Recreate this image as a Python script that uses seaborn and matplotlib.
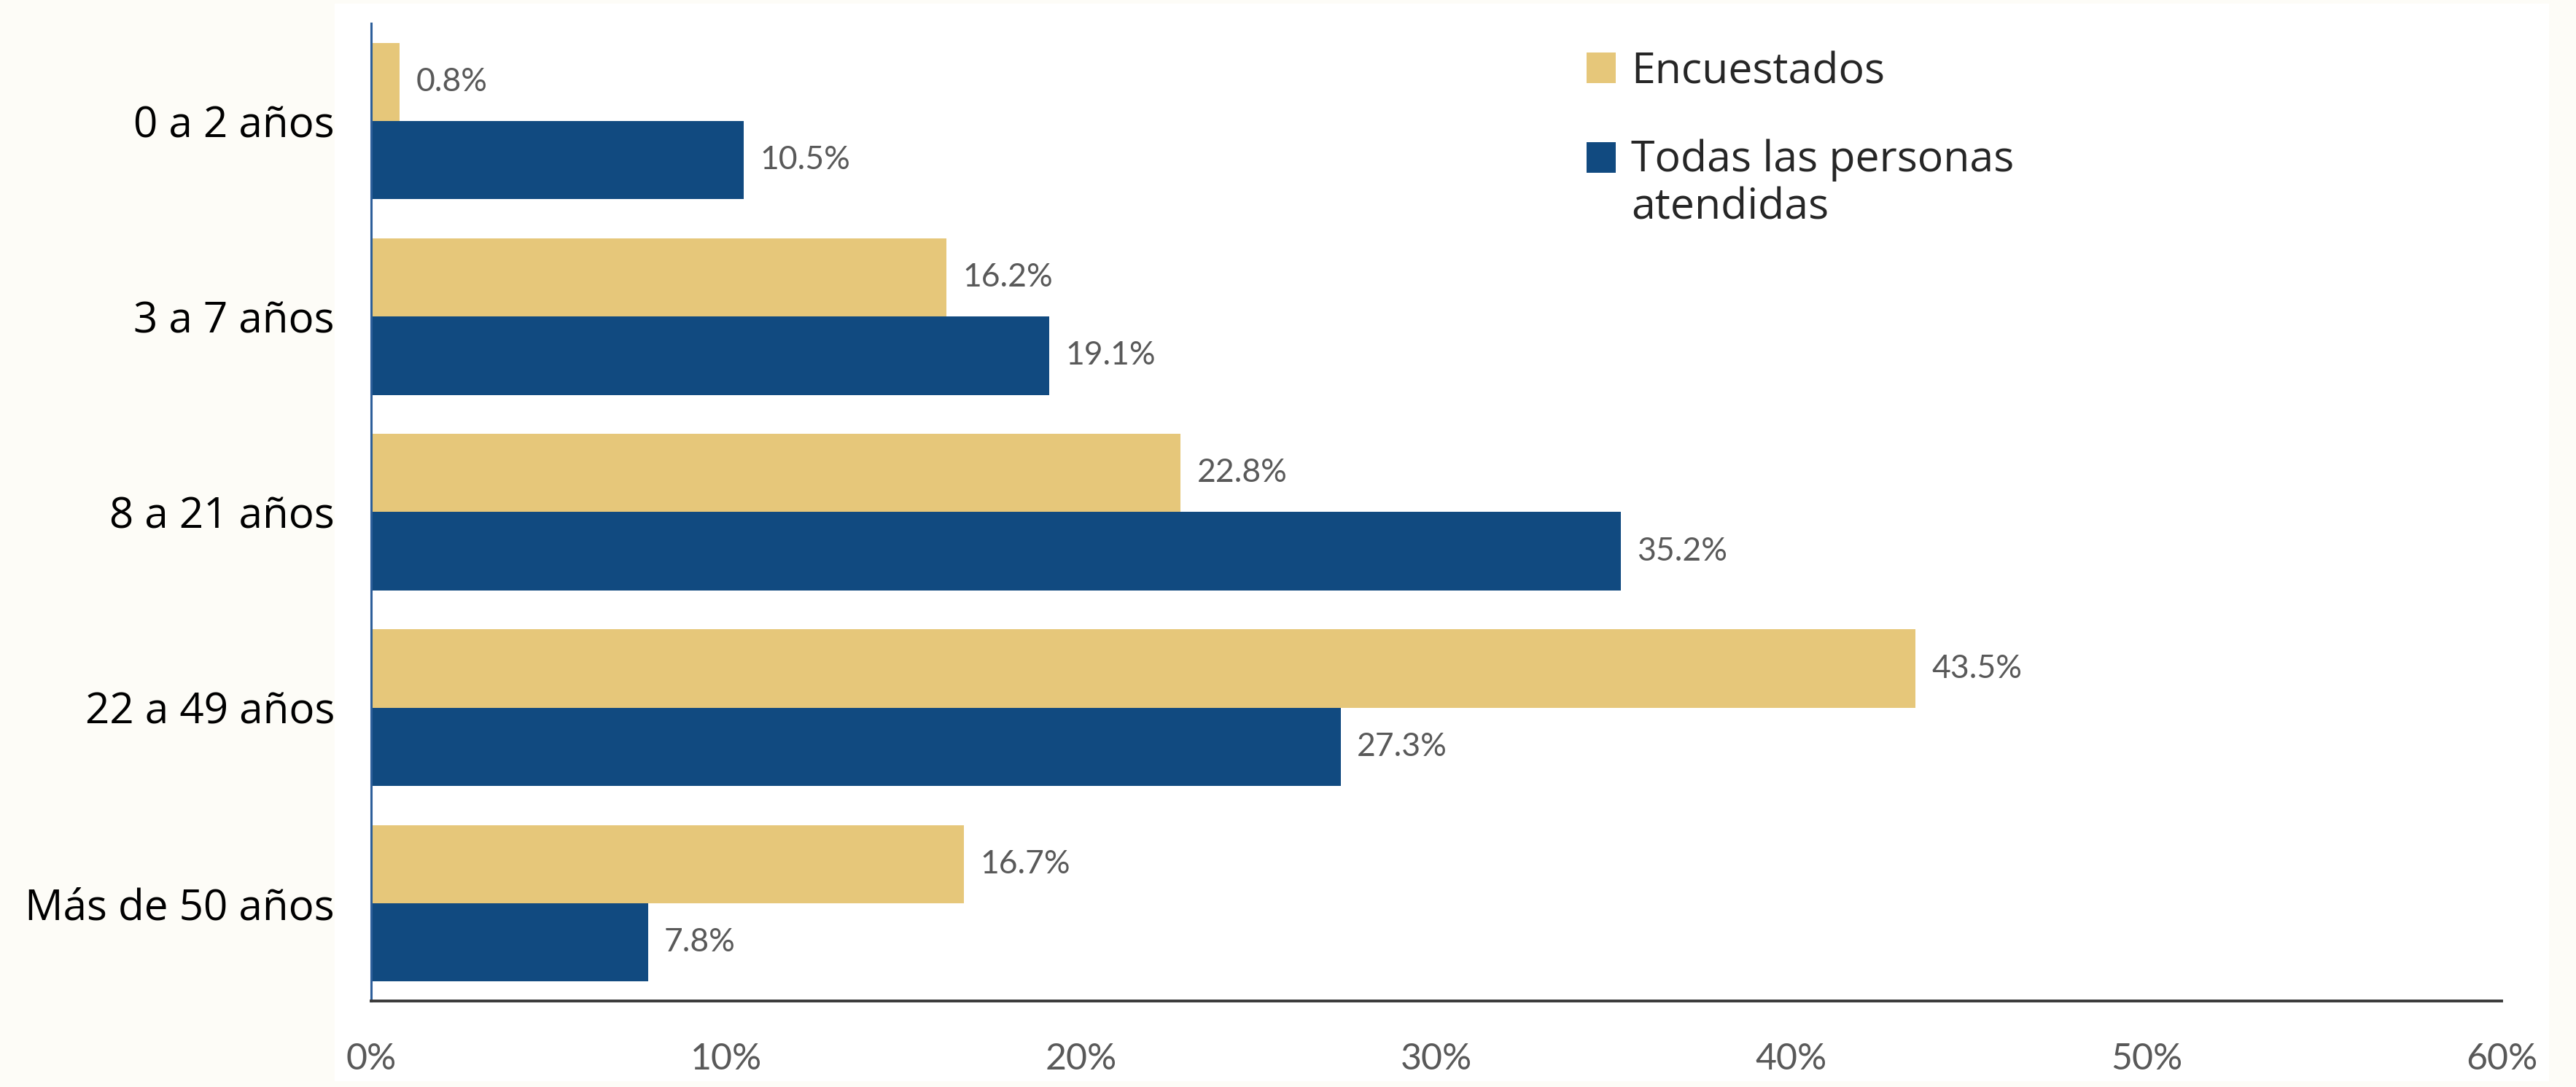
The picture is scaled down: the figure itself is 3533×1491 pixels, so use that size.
import matplotlib
matplotlib.use("Agg")
import matplotlib.pyplot as plt
import matplotlib.patches as mpatches
from matplotlib.legend_handler import HandlerPatch
import seaborn as sns
import pandas as pd

# Age groups and shares (%) for the two populations
categories = ["0 a 2 años", "3 a 7 años", "8 a 21 años", "22 a 49 años", "Más de 50 años"]
encuestados = [0.8, 16.2, 22.8, 43.5, 16.7]
todas_atendidas = [10.5, 19.1, 35.2, 27.3, 7.8]
series_names = ["Encuestados", "Todas las personas atendidas"]
legend_labels = ["Encuestados", "Todas las personas\natendidas"]
x_ticks = [0, 10, 20, 30, 40, 50, 60]
x_tick_labels = ["0%", "10%", "20%", "30%", "40%", "50%", "60%"]

colors = ["#E6C77A", "#114A80"]

df = pd.DataFrame({
    "grupo": categories * 2,
    "valor": encuestados + todas_atendidas,
    "serie": [series_names[0]] * len(categories) + [series_names[1]] * len(categories),
})

sns.set_theme(style="white")
plt.rcParams["font.family"] = ["Lato", "DejaVu Sans"]
label_font = ["Open Sans", "DejaVu Sans"]

W, H, DPI = 3533, 1491, 100
fig = plt.figure(figsize=(W / DPI, H / DPI), dpi=DPI, facecolor="#FDFCF7")

# white card behind the chart
fig.patches.append(mpatches.Rectangle(
    (459 / W, 1 - 1483 / H), (3496 - 459) / W, (1483 - 5) / H,
    transform=fig.transFigure, facecolor="white", edgecolor="none", zorder=-1))

ax = fig.add_axes([509 / W, 1 - 1373 / H, (3431 - 509) / W, (1373 - 32) / H])
ax.set_facecolor("white")

sns.barplot(data=df, y="grupo", x="valor", hue="serie", order=categories,
            hue_order=series_names, palette=colors, orient="h", width=0.8,
            saturation=1, errorbar=None, linewidth=0, legend=False, ax=ax)

for cont in ax.containers:
    ax.bar_label(cont, fmt=lambda v: f"{v:.1f}%", padding=16,
                 color="#595959", fontsize=32)

ax.set_xlim(0, 60)
ax.set_ylim(4.5, -0.5)
ax.set_xticks(x_ticks)
ax.set_xticklabels(x_tick_labels)
ax.set_xlabel("")
ax.set_ylabel("")
ax.tick_params(axis="x", length=0, pad=41, labelsize=36, labelcolor="#595959")
ax.tick_params(axis="y", length=0, pad=36, labelsize=42, labelcolor="black")
for t in ax.get_yticklabels():
    t.set_fontfamily(label_font)

for s in ["top", "right"]:
    ax.spines[s].set_visible(False)
ax.spines["left"].set_color("#2D5F9A")
ax.spines["left"].set_linewidth(2.2)
ax.spines["bottom"].set_color("#3A3A3A")
ax.spines["bottom"].set_linewidth(2.8)

LEG_FS = 42.5
LINE_SHIFT = 27.4  # points: lifts a swatch to the first line of a wrapped label


def first_line_swatch(legend, orig_handle, xdescent, ydescent, width, height, fontsize):
    return mpatches.Rectangle((-xdescent, -ydescent + LINE_SHIFT), width, height)


handles = [mpatches.Patch(facecolor=c, edgecolor="none") for c in colors]
leg = ax.legend(handles, legend_labels, loc="upper left",
                bbox_to_anchor=((2176 - 509) / (3431 - 509), 0.972),
                frameon=False, handlelength=0.68, handleheight=0.72,
                handletextpad=0.36, labelspacing=1.05, borderpad=0, borderaxespad=0,
                prop={"family": label_font, "size": LEG_FS},
                handler_map={handles[1]: HandlerPatch(patch_func=first_line_swatch)})
for t in leg.get_texts():
    t.set_linespacing(1.17)

fig.savefig("out.png", dpi=DPI, facecolor=fig.get_facecolor())
